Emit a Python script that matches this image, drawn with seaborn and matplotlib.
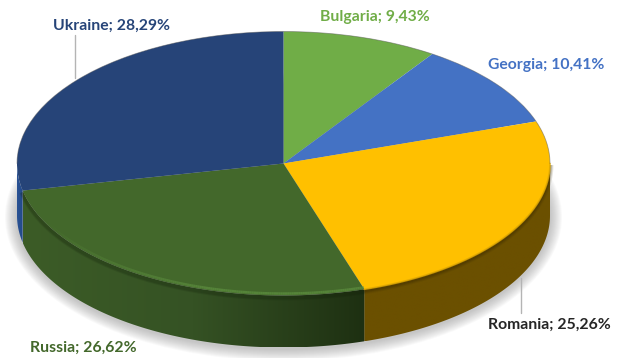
import numpy as np
import matplotlib
matplotlib.use("Agg")
import matplotlib.pyplot as plt
from matplotlib.patches import Ellipse, Polygon
from matplotlib.transforms import Affine2D
from matplotlib.colors import LinearSegmentedColormap
import seaborn as sns

# Shares per country, clockwise from twelve o'clock
countries = ["Bulgaria", "Georgia", "Romania", "Russia", "Ukraine"]
shares = [9.43, 10.41, 25.26, 26.62, 28.29]
face_colors = ["#70AD47", "#4472C4", "#FFC000", "#43682B", "#264478"]
label_colors = ["#70AD47", "#4472C4", "#262626", "#43682B", "#264478"]

W, H = 619, 358
CX, CY, RX, RY, DEPTH = 283.5, 163.5, 266.5, 132.0, 52.0

sns.set_theme(style="white")
plt.rcParams["font.family"] = ["Lato", "DejaVu Sans"]

fig, ax = plt.subplots(figsize=(W / 100, H / 100), dpi=100)
fig.subplots_adjust(0, 0, 1, 1)
palette = sns.color_palette(face_colors)

# Soft shadow under the disc, behind everything else
depth_units = DEPTH / RY
for grow in np.arange(12, 0, -1.0):
    ax.add_patch(Ellipse((0, -depth_units - 1.5 / RY), 2 + 2 * grow / RX, 2 + 2 * grow / RY,
                         fc="#808080", ec="none", alpha=0.045, zorder=0))

wedges, _ = ax.pie(shares, colors=palette, startangle=90, counterclock=False,
                   radius=1, center=(0, 0), wedgeprops=dict(linewidth=0))
for w in wedges:
    w.set_zorder(5)

xlim = (-CX / RX, (W - CX) / RX)
ylim = (-(H - CY) / RY, CY / RY)
edges = np.concatenate([[0], np.cumsum(shares)]) / 100 * 360


def arc(a, b, n=200):
    t = np.radians(np.linspace(a, b, n))
    return np.sin(t), np.cos(t)


# Side wall: only the front half of the disc faces the viewer.
# Each section is a horizontal gradient clipped to its outline.
side_shades = {
    "Romania": ("#6B5000", "#6B5000"),
    "Russia": ("#3C5C27", "#355224", "#1E3012"),
    "Ukraine": ("#2A5294", "#234A8A"),
}
for i, name in enumerate(countries):
    if name not in side_shades:
        continue
    a, b = max(edges[i], 90), min(edges[i + 1], 270)
    x, y = arc(a, b)
    outline = np.column_stack([np.r_[x, x[::-1]], np.r_[y, y[::-1] - depth_units]])
    poly = Polygon(outline, closed=True, transform=ax.transData, fc="none", ec="none")
    ax.add_patch(poly)
    cmap = LinearSegmentedColormap.from_list(name, side_shades[name])
    img = ax.imshow(np.linspace(0, 1, 128)[None, :], cmap=cmap, aspect="auto", zorder=2,
                    extent=(x.min(), x.max(), y.min() - depth_units, y.max()),
                    interpolation="bilinear")
    img.set_clip_path(poly)

ax.set_aspect("auto")
ax.set_xlim(*xlim)
ax.set_ylim(*ylim)
ax.axis("off")

# Bevel along the front rim of the top face
i_rom, i_rus = countries.index("Romania"), countries.index("Russia")
x, y = arc(max(edges[i_rom], 90), edges[i_rom + 1])
for lw, alpha in [(5, 0.12), (3.5, 0.18), (2, 0.25)]:
    ax.plot(x, y - 1.5 / RY, color="#3A2C00", lw=lw, alpha=alpha, zorder=3, solid_capstyle="butt")
ax.plot(x, y, color="#E0A800", lw=1.2, alpha=0.8, zorder=6)

x, y = arc(edges[i_rus], edges[i_rus + 1])
for lw, alpha in [(5, 0.15), (3.5, 0.2)]:
    ax.plot(x, y - 1.5 / RY, color="#14220B", lw=lw, alpha=alpha, zorder=3, solid_capstyle="butt")
fade = np.linspace(1, 0, len(x))
for k in range(0, len(x) - 1):
    alpha = 0.7 * min(1, (fade[k] - 0.15) / 0.5) if fade[k] > 0.15 else 0
    ax.plot(x[k:k + 2] * 0.994, y[k:k + 2] * 0.985, color="#5E9040", lw=1.8, alpha=alpha, zorder=6,
            solid_capstyle="butt")

# Thin dark line on the back edge of the top face
x, y = arc(-90, 90)
ax.plot(x, y, color="#555555", lw=0.6, alpha=0.5, zorder=6)

# Pixel-based placement for the outer labels and their leader lines
px = Affine2D().scale(1 / W, -1 / H).translate(0, 1) + fig.transFigure
label_pos = {
    "Bulgaria": (375, 16.5),
    "Georgia": (546.5, 65.5),
    "Romania": (549.5, 325),
    "Russia": (83, 348),
    "Ukraine": (111.5, 25.5),
}
for name, share, color in zip(countries, shares, label_colors):
    text = f"{name}; {share:.2f}%".replace(".", ",")
    ax.text(*label_pos[name], text, transform=px, ha="center", va="center",
            fontsize=11.3, fontweight="bold", color=color, zorder=10)

for xs, ys in [((75, 75), (35, 78)), ((521, 521), (278, 313))]:
    ax.plot(xs, ys, transform=px, color="#B4B4B4", lw=1, zorder=1 if xs[0] == 75 else 4)

fig.savefig("out.png", dpi=100, facecolor="white")
